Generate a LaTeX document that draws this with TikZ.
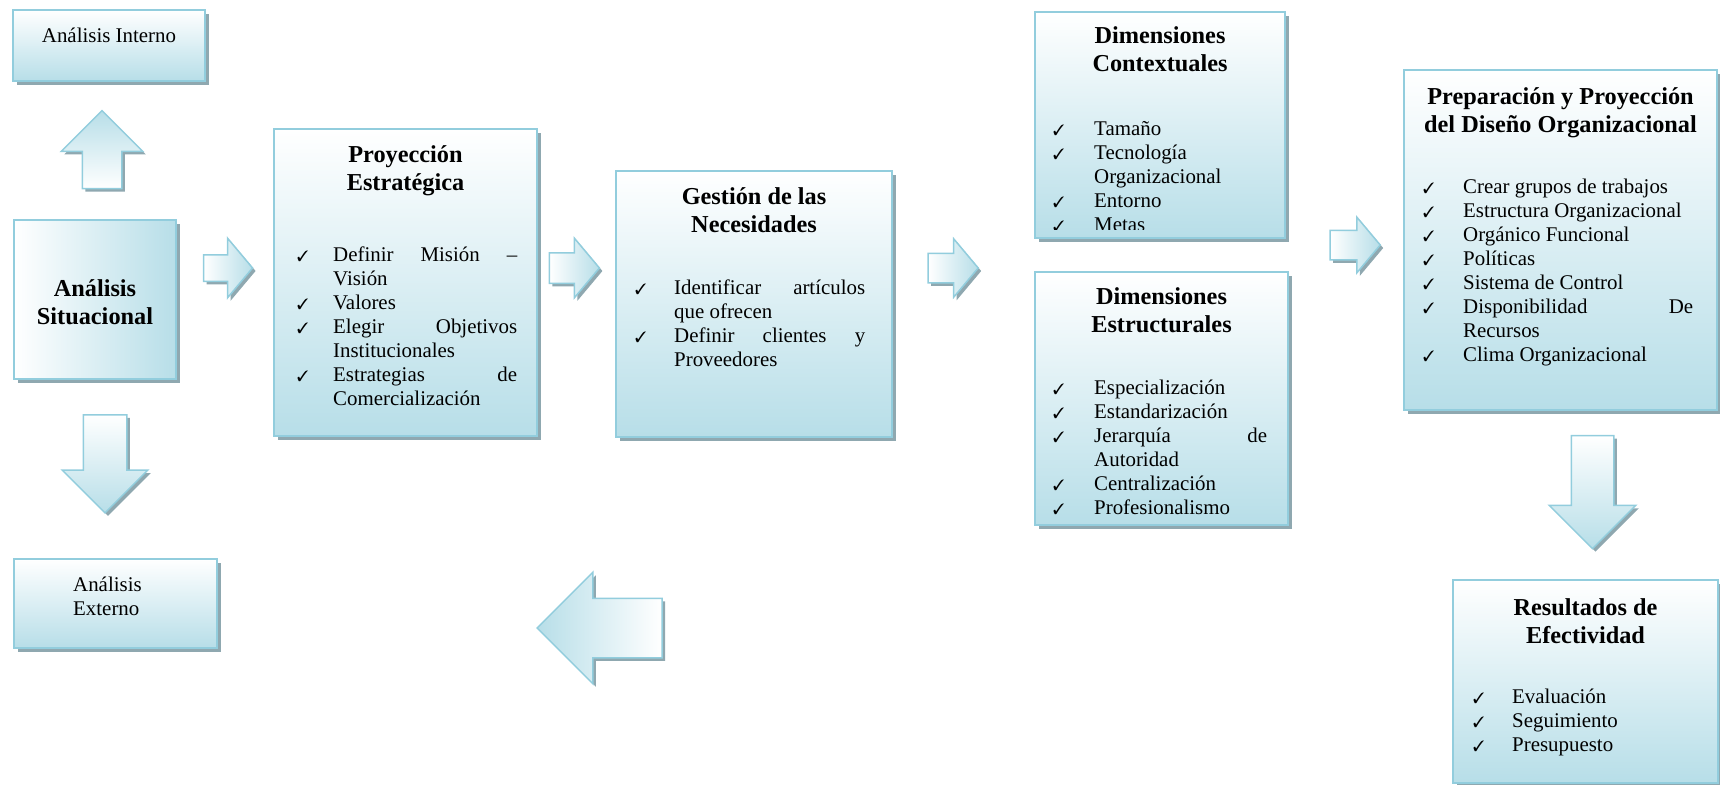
\documentclass[tikz,border=0pt]{standalone}
\usepackage{pifont}
\usepackage{fontspec}
\setmainfont{Liberation Serif}
\usepackage{tikz}
\usetikzlibrary{shapes.arrows,shadows}
\definecolor{BordeAzul}{RGB}{146,205,221}
\definecolor{FondoAzul}{RGB}{183,222,232}
\definecolor{SombraGris}{RGB}{143,168,176}
\newlength{\sangria}
\newcommand{\chk}[1]{\par\noindent\hangindent=\sangria\hangafter=1\makebox[\sangria][l]{\fontsize{15}{15}\selectfont\ding{51}}\strut#1\par}
\hyphenpenalty=10000
\exhyphenpenalty=10000
\tolerance=9999
\tikzset{
  caja/.style={draw=BordeAzul, line width=2pt, top color=white, bottom color=FondoAzul, inner sep=0pt,
    drop shadow={shadow xshift=4pt, shadow yshift=-4pt, fill=SombraGris, opacity=1}},
  titulo/.style={font=\fontsize{24.3}{28}\selectfont\bfseries, align=center, anchor=north, inner sep=0pt},
  lista/.style={font=\fontsize{20.9}{24}\selectfont, align=justify, anchor=north west, inner sep=0pt},
  flecha/.style={single arrow, draw=BordeAzul, line width=1.5pt, single arrow tip angle=100,
    drop shadow={shadow xshift=3pt, shadow yshift=-3pt, fill=SombraGris, opacity=1}}
}
\begin{document}
\begin{tikzpicture}[x=1pt, y=-1pt]
  \useasboundingbox (0,0) rectangle (1720,784);

  % cajas de la izquierda
  \node[caja, minimum width=192pt, minimum height=71pt] (aInterno) at (109,45.5) {};
  \node[lista, align=center, anchor=north] (tInterno) at (109,25) {\strut Análisis Interno};
  \node[caja, left color=white, right color=FondoAzul, minimum width=162pt, minimum height=159pt] (aSit) at (95,299.5) {};
  \node[titulo] (tSit) at (95,277) {\strut Análisis\\Situacional};
  \node[caja, minimum width=203pt, minimum height=89pt] (aExterno) at (115.5,603.5) {};
  \node[lista, align=left] (tExterno) at (73,574) {\strut Análisis\\Externo};

  % flechas
  \node[flecha, top color=FondoAzul, bottom color=white, shape border rotate=90, inner sep=19pt,
    minimum height=78pt, minimum width=80pt, single arrow head extend=21pt, single arrow tip angle=90] (fArriba) at (102,159.5) {};
  \node[flecha, top color=white, bottom color=FondoAzul, shape border rotate=270, inner sep=21pt,
    minimum height=98pt, minimum width=84pt, single arrow head extend=21pt, single arrow tip angle=90] (fAbajo) at (105,453) {};
  \node[flecha, left color=white, right color=FondoAzul, inner xsep=0pt, inner ysep=12.5pt,
    minimum height=49pt, minimum width=58pt, single arrow head extend=16.5pt] (fDer1) at (222.5,268) {};
  \node[flecha, left color=white, right color=FondoAzul, inner xsep=0pt, inner ysep=14.5pt,
    minimum height=50pt, minimum width=58pt, single arrow head extend=14.5pt] (fDer2) at (568,268) {};
  \node[flecha, left color=white, right color=FondoAzul, inner xsep=0pt, inner ysep=14pt,
    minimum height=50pt, minimum width=57pt, single arrow head extend=14.5pt] (fDer3) at (947,268) {};
  \node[flecha, left color=white, right color=FondoAzul, inner xsep=0pt, inner ysep=14pt,
    minimum height=50pt, minimum width=54pt, single arrow head extend=13pt] (fDer4) at (1349,245) {};
  \node[flecha, top color=white, bottom color=FondoAzul, shape border rotate=270, inner sep=20.5pt,
    minimum height=113pt, minimum width=85pt, single arrow head extend=22pt, single arrow tip angle=90] (fAbajo2) at (1592.5,481.5) {};
  \node[flecha, left color=FondoAzul, right color=white, shape border rotate=180, inner sep=29pt,
    minimum height=125pt, minimum width=110pt, single arrow head extend=26pt, single arrow tip angle=90] (fIzq) at (614.5,628) {};

  % proyeccion estrategica
  \node[caja, minimum width=263pt, minimum height=307pt] (proy) at (405.5,282.5) {};
  \node[titulo] (tProy) at (405.5,143) {\strut Proyección\\Estratégica};
  \node[lista, text width=220pt] (lProy) at (297,237) {\setlength{\sangria}{36pt}%
    \chk{Definir Misión – Visión}\chk{Valores}\chk{Elegir Objetivos Institucionales}%
    \chk{Estrategias de Comercialización}};

  % gestion
  \node[caja, minimum width=276pt, minimum height=266pt] (gest) at (754,304) {};
  \node[titulo] (tGest) at (754,185) {\strut Gestión de las\\Necesidades};
  \node[lista, text width=230pt] (lGest) at (635,270) {\setlength{\sangria}{39pt}%
    \chk{Identificar artículos que ofrecen}\chk{Definir clientes y Proveedores}};

  % dimensiones
  \node[caja, minimum width=250pt, minimum height=226pt] (cont) at (1160,125) {};
  \node[titulo] (tCont) at (1160,24) {\strut Dimensiones\\Contextuales};
  \begin{scope}
    \clip ([yshift=10pt]cont.south west) rectangle (cont.north east);
    \node[lista, text width=214pt] (lCont) at (1053,111.5) {\setlength{\sangria}{41pt}%
      \chk{Tamaño}\chk{Tecnología Organizacional}\chk{Entorno}\chk{Metas}};
  \end{scope}
  \node[caja, minimum width=253pt, minimum height=253pt] (estr) at (1161.5,398.5) {};
  \node[titulo] (tEstr) at (1161.5,285) {\strut Dimensiones\\Estructurales};
  \node[lista, text width=214pt] (lEstr) at (1053,370.5) {\setlength{\sangria}{41pt}%
    \chk{Especialización}\chk{Estandarización}\chk{Jerarquía de Autoridad}%
    \chk{Centralización}\chk{Profesionalismo}};

  % diseno organizacional
  \node[caja, minimum width=313pt, minimum height=340pt] (prep) at (1560.5,240) {};
  \node[titulo] (tPrep) at (1560.5,85) {\strut Preparación y Proyección\\del Diseño Organizacional};
  \node[lista, text width=270pt] (lPrep) at (1423,169.5) {\setlength{\sangria}{40pt}%
    \chk{Crear grupos de trabajos}\chk{Estructura Organizacional}\chk{Orgánico Funcional}%
    \chk{Políticas}\chk{Sistema de Control}\chk{Disponibilidad De Recursos}\chk{Clima Organizacional}};

  % resultados
  \node[caja, minimum width=265pt, minimum height=203pt] (result) at (1585.5,681.5) {};
  \node[titulo] (tResult) at (1585.5,596) {\strut Resultados de\\Efectividad};
  \node[lista, text width=225pt] (lResult) at (1473,679.5) {\setlength{\sangria}{39pt}%
    \chk{Evaluación}\chk{Seguimiento}\chk{Presupuesto}};
\end{tikzpicture}
\end{document}
